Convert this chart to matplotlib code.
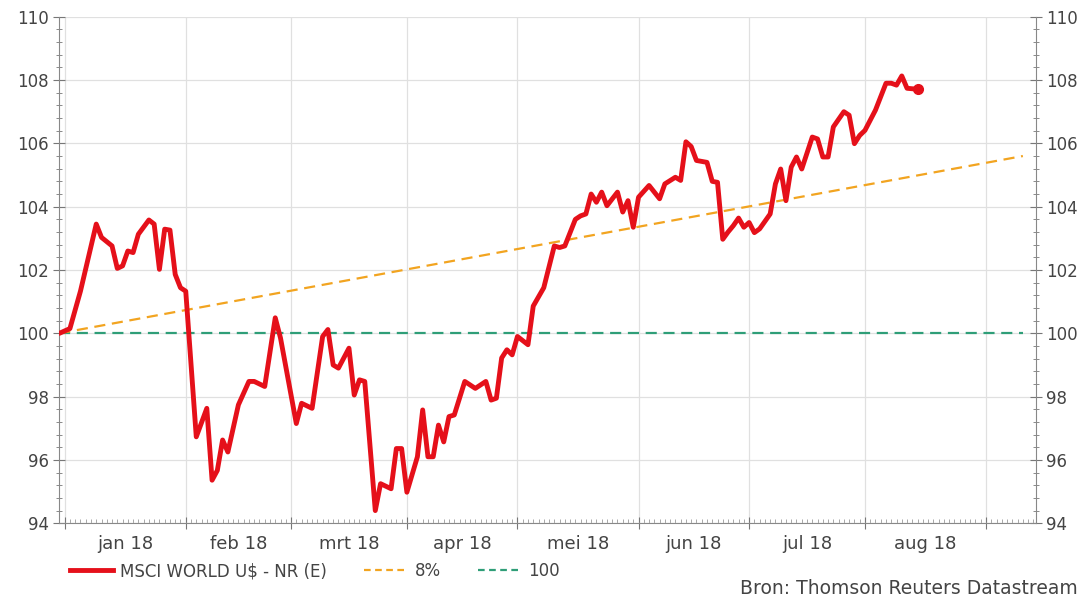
import matplotlib
matplotlib.use("Agg")
import matplotlib.pyplot as plt
from matplotlib.ticker import MultipleLocator, FixedLocator, NullFormatter
from matplotlib.lines import Line2D
import numpy as np

# Datastream-as: alleen werkdagen, dag 0 = 29-12-2017
START = "2017-12-29"

# MSCI World (in euro), geindexeerd op 100 per 29-12-2017
msci_dates = [
    "2017-12-29", "2018-01-02", "2018-01-04", "2018-01-09", "2018-01-10", "2018-01-12",
    "2018-01-15", "2018-01-16", "2018-01-17", "2018-01-18", "2018-01-19", "2018-01-23",
    "2018-01-24", "2018-01-25", "2018-01-26", "2018-01-29", "2018-01-30", "2018-01-31",
    "2018-02-01", "2018-02-05", "2018-02-07", "2018-02-08", "2018-02-09", "2018-02-12",
    "2018-02-13", "2018-02-15", "2018-02-19", "2018-02-20", "2018-02-22", "2018-02-26",
    "2018-02-27", "2018-03-02", "2018-03-05", "2018-03-07", "2018-03-09", "2018-03-12",
    "2018-03-13", "2018-03-14", "2018-03-16", "2018-03-19", "2018-03-20", "2018-03-21",
    "2018-03-23", "2018-03-26", "2018-03-28", "2018-03-29", "2018-03-30", "2018-04-02",
    "2018-04-04", "2018-04-05", "2018-04-06", "2018-04-09", "2018-04-10", "2018-04-11",
    "2018-04-12", "2018-04-13", "2018-04-17", "2018-04-19", "2018-04-23", "2018-04-24",
    "2018-04-25", "2018-04-26", "2018-04-27", "2018-04-30", "2018-05-01", "2018-05-03",
    "2018-05-04", "2018-05-08", "2018-05-10", "2018-05-11", "2018-05-14", "2018-05-16",
    "2018-05-17", "2018-05-18", "2018-05-21", "2018-05-22", "2018-05-23", "2018-05-24",
    "2018-05-28", "2018-05-29", "2018-05-30", "2018-05-31", "2018-06-01", "2018-06-05",
    "2018-06-07", "2018-06-08", "2018-06-12", "2018-06-13", "2018-06-14", "2018-06-15",
    "2018-06-18", "2018-06-20", "2018-06-21", "2018-06-22", "2018-06-25", "2018-06-26",
    "2018-06-27", "2018-06-28", "2018-06-29", "2018-07-02", "2018-07-03", "2018-07-04",
    "2018-07-06", "2018-07-09", "2018-07-10", "2018-07-11", "2018-07-12", "2018-07-13",
    "2018-07-16", "2018-07-18", "2018-07-19", "2018-07-20", "2018-07-23", "2018-07-24",
    "2018-07-26", "2018-07-27", "2018-07-30", "2018-07-31", "2018-08-01", "2018-08-03",
    "2018-08-07", "2018-08-08", "2018-08-09", "2018-08-10", "2018-08-13", "2018-08-15",
]
msci_values = [
    100.0, 100.15, 101.33, 103.45, 103.03, 102.76,
    102.05, 102.13, 102.6, 102.55, 103.13, 103.58,
    103.45, 102.02, 103.29, 103.26, 101.86, 101.44,
    101.33, 96.73, 97.63, 95.36, 95.67, 96.63,
    96.25, 97.74, 98.48, 98.48, 98.32, 100.49,
    99.85, 97.15, 97.79, 97.63, 99.9, 100.12,
    99.0, 98.9, 99.53, 98.05, 98.53, 98.48,
    94.4, 95.25, 95.09, 96.36, 96.36, 94.98,
    96.1, 97.58, 96.1, 96.1, 97.1, 96.57,
    97.37, 97.42, 98.48, 98.26, 98.48, 97.89,
    97.95, 99.22, 99.48, 99.32, 99.9, 99.64,
    100.86, 101.44, 102.76, 102.71, 102.76, 103.6,
    103.71, 103.77, 104.4, 104.14, 104.46, 104.03,
    104.46, 103.83, 104.19, 103.35, 104.3, 104.67,
    104.25, 104.72, 104.93, 104.83, 106.05, 105.9,
    105.46, 105.4, 104.8, 104.77, 102.97, 103.2,
    103.4, 103.64, 103.35, 103.5, 103.18, 103.3,
    103.77, 104.72, 105.19, 104.19, 105.25, 105.57,
    105.19, 106.2, 106.14, 105.57, 105.57, 106.52,
    107.0, 106.89, 105.99, 106.25, 106.41, 107.05,
    107.9, 107.9, 107.84, 108.13, 107.74, 107.71,
]

# 8% per jaar en de 100-lijn
trend_dates = ["2017-12-29", "2018-09-12"]
trend_values = [100.0, 105.6]
base_dates = ["2017-12-29", "2018-09-12"]
base_values = [100.0, 100.0]

month_labels = ["jan 18", "feb 18", "mrt 18", "apr 18", "mei 18", "jun 18", "jul 18", "aug 18"]
month_starts = ["2018-01-01", "2018-02-01", "2018-03-01", "2018-04-01", "2018-05-01",
                "2018-06-01", "2018-07-01", "2018-08-01", "2018-09-01"]
x_end = "2018-09-17"


def bd(dates):
    """werkdag-index t.o.v. START"""
    return np.busday_count(START, np.array(dates, dtype="datetime64[D]"))


RED = "#e5101a"
ORANGE = "#f2a420"
GREEN = "#2f9e78"
TXT = "#444444"

plt.rcParams["font.family"] = ["DejaVu Sans"]

fig = plt.figure(figsize=(10.9, 5.98), dpi=100)
ax = fig.add_axes([0.054, 0.125, 0.8965, 0.847])

ax.plot(bd(base_dates), base_values, color=GREEN, lw=1.6, ls=(0, (5, 3)), zorder=3)
ax.plot(bd(trend_dates), trend_values, color=ORANGE, lw=1.6, ls=(0, (5, 3)), zorder=3)
mx = bd(msci_dates)
ax.plot(mx, msci_values, color=RED, lw=3.5, solid_joinstyle="round", solid_capstyle="round", zorder=4)
ax.plot(mx[-1:], msci_values[-1:], "o", color=RED, ms=7, zorder=4)

ax.set_xlim(-0.1, bd([x_end])[0] - 0.5)
ax.set_ylim(94, 110)

# y-as links en rechts
ax.yaxis.set_major_locator(MultipleLocator(2))
ax.yaxis.set_minor_locator(MultipleLocator(0.4))
ax.tick_params(axis="y", which="both", left=True, right=True, labelleft=True, labelright=True,
               direction="inout", colors="#777777", labelcolor=TXT, labelsize=12)
ax.tick_params(axis="y", which="major", length=8, pad=3)
ax.tick_params(axis="y", which="minor", length=4)

# x-as: maandgrenzen als rasterlijnen, werkdagen als kleine streepjes
ms = bd(month_starts)
ax.xaxis.set_major_locator(FixedLocator(ms))
ax.xaxis.set_minor_locator(MultipleLocator(1))
ax.xaxis.set_major_formatter(NullFormatter())
ax.tick_params(axis="x", which="major", direction="inout", length=8, colors="#777777")
ax.tick_params(axis="x", which="minor", direction="in", length=3, colors="#999999", width=0.6)

for i, lab in enumerate(month_labels):
    mid = (ms[i] + ms[i + 1]) / 2
    ax.text(mid, -0.024, lab, transform=ax.get_xaxis_transform(), ha="center", va="top",
            fontsize=13, color=TXT)

ax.grid(True, which="major", color="#e0e0e0", lw=0.9)
ax.set_axisbelow(True)
ax.spines["top"].set_visible(False)
for s in ("left", "right", "bottom"):
    ax.spines[s].set_color("#888888")
    ax.spines[s].set_linewidth(0.8)

handles = [
    Line2D([], [], color=RED, lw=3.5),
    Line2D([], [], color=ORANGE, lw=1.6, ls=(0, (3, 2))),
    Line2D([], [], color=GREEN, lw=1.6, ls=(0, (3, 2))),
]
fig.legend(handles, ["MSCI WORLD U$ - NR (E)", "8%", "100"], loc="upper left",
           bbox_to_anchor=(0.05, 0.085), ncol=3, frameon=False, fontsize=12,
           handlelength=2.6, handletextpad=0.45, columnspacing=2.2, labelcolor=TXT)

fig.text(0.989, 0.006, "Bron: Thomson Reuters Datastream", ha="right", va="baseline",
         fontsize=13.5, color=TXT)

fig.savefig("out.png", dpi=100)
